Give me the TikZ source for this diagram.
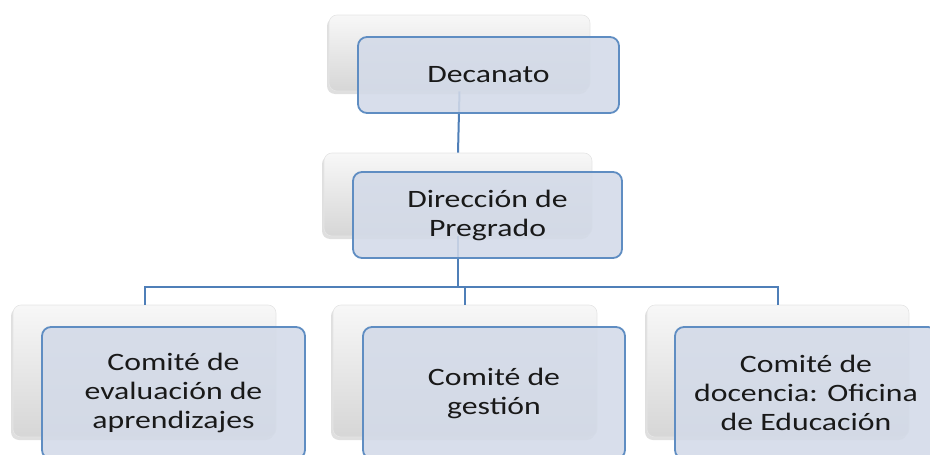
\documentclass[tikz,border=0pt]{standalone}
\usepackage{fontspec}
\setmainfont[FakeStretch=1.27]{Carlito}
\usetikzlibrary{shadows}
\definecolor{bordblue}{HTML}{5F8DC2}
\definecolor{frontfill}{HTML}{D3DAE8}
\definecolor{linkblue}{HTML}{4F7FB8}
\tikzset{
  backbox/.style={rounded corners=8pt, draw=black!10, line width=0.6pt,
    top color=white!97!black, bottom color=black!16, inner sep=0pt,
    drop shadow={shadow xshift=-2pt, shadow yshift=-3pt, opacity=0.25}},
  frontbox/.style={rounded corners=9pt, draw=bordblue, line width=1.8pt,
    fill=frontfill, fill opacity=0.88, text opacity=1, inner sep=0pt,
    align=center, text=black!90,
    font=\fontsize{25pt}{29pt}\selectfont},
  link/.style={draw=linkblue, line width=2pt}
}
\begin{document}
\begin{tikzpicture}[x=1pt,y=-1pt]
\useasboundingbox (0,0) rectangle (930,455);
\clip (0,0) rectangle (930,455);
% back boxes
\node[backbox, minimum width=261pt, minimum height=76pt] (tb) at (459.5,53) {};
\node[backbox, minimum width=268pt, minimum height=83pt] (mb) at (458,194.5) {};
\node[backbox, minimum width=263pt, minimum height=132pt] (lb) at (144.5,371) {};
\node[backbox, minimum width=264pt, minimum height=132pt] (cb) at (465,371) {};
\node[backbox, minimum width=262pt, minimum height=132pt] (rb) at (778,371) {};
% connectors
\coordinate (j) at (458,287);
\draw[link] (tb.south) -- (mb.north);
\draw[link] (mb.south) -- (j);
\draw[link] (lb.north) -- (lb.north |- j) -- (rb.north |- j) -- (rb.north);
\draw[link] (cb.north) -- (cb.north |- j);
% front boxes
\node[frontbox, minimum width=261pt, minimum height=76pt] (tf) at (488.5,75) {Decanato};
\node[frontbox, minimum width=269pt, minimum height=86pt] (mf) at (487.5,215) {Dirección de\\Pregrado};
\node[frontbox, minimum width=263pt, minimum height=132pt] (lf) at (173.5,393) {Comité de\\evaluación de\\aprendizajes};
\node[frontbox, minimum width=262pt, minimum height=132pt] (cf) at (494,393) {Comité de\\gestión};
\node[frontbox, minimum width=262pt, minimum height=132pt] (rf) at (806,393) {Comité de\\docencia: Oficina\\de Educación};
\end{tikzpicture}
\end{document}
